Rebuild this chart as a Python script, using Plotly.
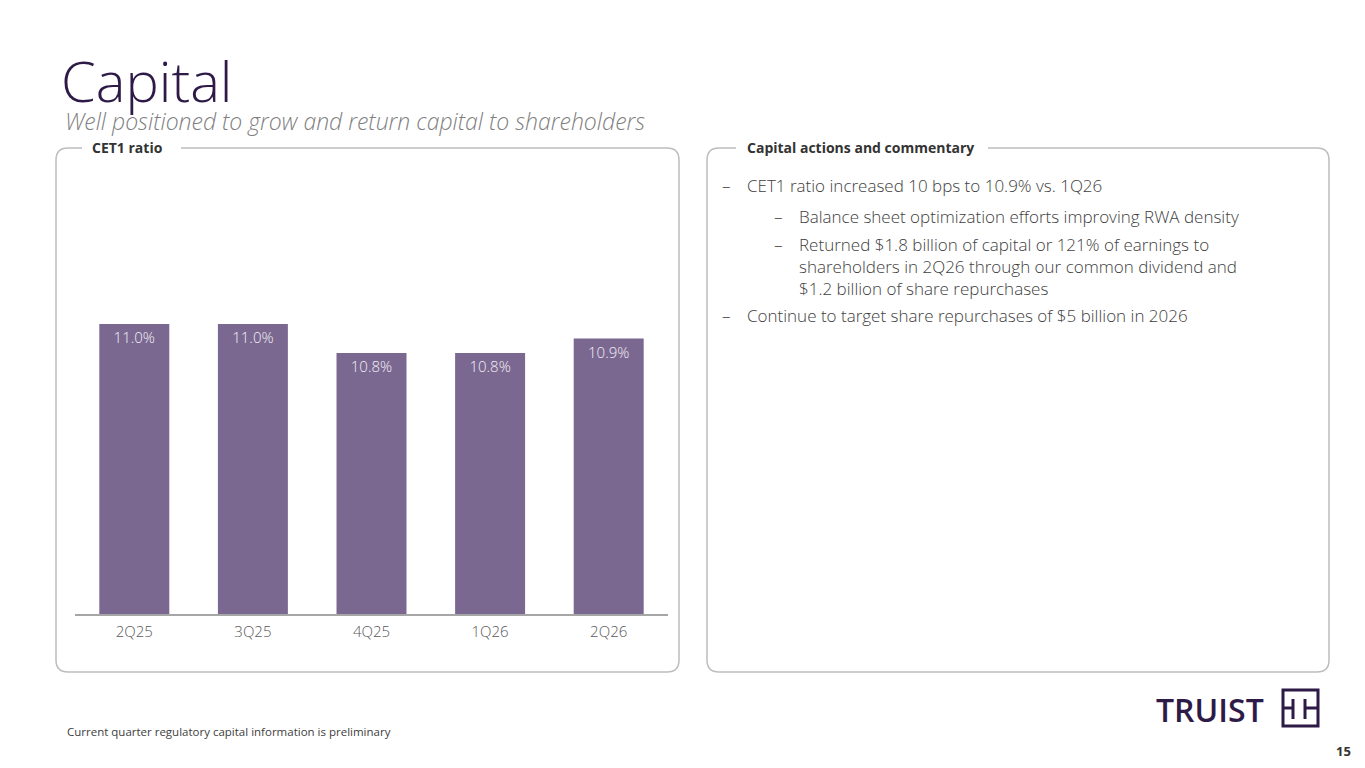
import plotly.graph_objects as go

# page has an 8px body margin, so the figure is drawn inside it
W = 1349
H = 752
OFF = 8

# chart data
quarters = ['2Q25', '3Q25', '4Q25', '1Q26', '2Q26']
cet1_ratio = [11.0, 11.0, 10.8, 10.8, 10.9]
bar_labels = ['11.0%', '11.0%', '10.8%', '10.8%', '10.9%']

# commentary text
bullets = [
	'CET1 ratio increased 10 bps to 10.9% vs. 1Q26',
	'Continue to target share repurchases of $5 billion in 2026',
]
sub_bullets = [
	'Balance sheet optimization efforts improving RWA density',
	'Returned $1.8 billion of capital or 121% of earnings to<br>shareholders in 2Q26 through our common dividend and<br>$1.2 billion of share repurchases',
]

PURPLE = '#7b6891'
DARK = '#2e1a47'
BORDER = '#bdbdbd'
FONT = 'Open Sans'
TXT = '#404040'


def px(x):
	return (x - OFF) / W


def py(y):
	return 1 - (y - OFF) / H


def panel_path(x0, y0, x1, y1, gap0, gap1, r=12):
	pts = [
		'M {} {}'.format(px(gap1), py(y0)),
		'L {} {}'.format(px(x1 - r), py(y0)),
		'Q {} {} {} {}'.format(px(x1), py(y0), px(x1), py(y0 + r)),
		'L {} {}'.format(px(x1), py(y1 - r)),
		'Q {} {} {} {}'.format(px(x1), py(y1), px(x1 - r), py(y1)),
		'L {} {}'.format(px(x0 + r), py(y1)),
		'Q {} {} {} {}'.format(px(x0), py(y1), px(x0), py(y1 - r)),
		'L {} {}'.format(px(x0), py(y0 + r)),
		'Q {} {} {} {}'.format(px(x0), py(y0), px(x0 + r), py(y0)),
		'L {} {}'.format(px(gap0), py(y0)),
	]
	return ' '.join(pts)


fig = go.Figure()
fig.add_trace(go.Bar(
	x=quarters, y=cet1_ratio, text=bar_labels, textposition='inside',
	insidetextanchor='end', textangle=0,
	textfont=dict(family=FONT, size=15, color='#f2eef6', weight=300),
	marker=dict(color=PURPLE, line=dict(width=0)), width=0.59,
	hoverinfo='skip', cliponaxis=False,
))

shapes = []
shapes.append(dict(type='path', xref='paper', yref='paper',
	path=panel_path(56, 148, 679, 672, 82, 181), line=dict(color=BORDER, width=1.5)))
shapes.append(dict(type='path', xref='paper', yref='paper',
	path=panel_path(707, 148, 1329, 672, 736, 988), line=dict(color=BORDER, width=1.5)))

# logo icon
shapes.append(dict(type='rect', xref='paper', yref='paper',
	x0=px(1283), x1=px(1318), y0=py(726), y1=py(690),
	line=dict(color=DARK, width=3)))
for x0, x1 in [(1283, 1293), (1305, 1318)]:
	shapes.append(dict(type='line', xref='paper', yref='paper',
		x0=px(x0), x1=px(x1), y0=py(708), y1=py(708), line=dict(color=DARK, width=3)))
for xv in [1293, 1305]:
	shapes.append(dict(type='line', xref='paper', yref='paper',
		x0=px(xv), x1=px(xv), y0=py(699), y1=py(719), line=dict(color=DARK, width=3)))

annotations = []


def add_text(x, y, text, size, color, weight=400, style='normal', xanchor='left', yanchor='middle', family=FONT):
	annotations.append(dict(x=px(x), y=py(y), xref='paper', yref='paper', text=text,
		showarrow=False, xanchor=xanchor, yanchor=yanchor, align='left',
		borderpad=0,
		font=dict(family=family, size=size, color=color, weight=weight, style=style)))


add_text(60, 80, 'Capital', 56, DARK, weight=300)
add_text(64, 121, 'Well positioned to grow and return capital to shareholders', 23, '#7f7f7f', weight=300, style='italic')
add_text(91, 147, 'CET1 ratio', 14, '#333333', weight=700)
add_text(746, 147, 'Capital actions and commentary', 14, '#333333', weight=700)

add_text(721, 186, '–', 17, TXT, weight=300)
add_text(746, 186, bullets[0], 17, TXT, weight=300)
add_text(773, 216, '–', 17, TXT, weight=300)
add_text(798, 216, sub_bullets[0], 17, TXT, weight=300)
add_text(773, 245, '–', 17, TXT, weight=300)
add_text(798, 266, sub_bullets[1], 17, TXT, weight=300)
add_text(721, 316, '–', 17, TXT, weight=300)
add_text(746, 316, bullets[1], 17, TXT, weight=300)

add_text(66, 731, 'Current quarter regulatory capital information is preliminary', 11.5, TXT, weight=400)
add_text(1352, 751, '15', 13, '#333333', weight=700, xanchor='right')
add_text(1155, 709, 'TRUIST', 32, DARK, weight=600)

# y scale: baseline at 614 px, 145 px per point
y_top = 160
y_min = 9.0
y_max = y_min + (614 - y_top) / 145.0

fig.update_layout(
	width=W, height=H,
	margin=dict(l=0, r=0, t=0, b=0),
	paper_bgcolor='white', plot_bgcolor='white',
	showlegend=False,
	shapes=shapes,
	annotations=annotations,
	xaxis=dict(domain=[px(75), px(668)], showgrid=False, zeroline=False,
		showline=True, linecolor='#a6a6a6', linewidth=1.5, ticks='',
		ticklabelstandoff=3,
		tickfont=dict(family=FONT, size=15, color='#595959', weight=300),
		fixedrange=True),
	yaxis=dict(domain=[py(614), py(y_top)], range=[y_min, y_max], visible=False,
		fixedrange=True),
	uniformtext=dict(mode=False),
)

fig.write_html('out.html')
